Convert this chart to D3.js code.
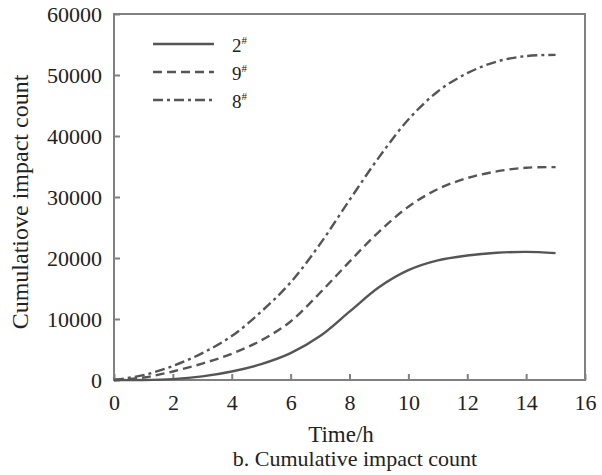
<!DOCTYPE html>
<html>
<head>
<meta charset="utf-8">
<script src="https://cdn.jsdelivr.net/npm/d3@7"></script>
<style>
    body { margin: 0; background: #fff; }
</style>
</head>
<body>
<div id="chart"></div>
<script>
// time (h)
const times = [0, 1, 2, 3, 4, 5, 6, 7, 8, 9, 10, 11, 12, 13, 14, 15];
// cumulative impact counts per working face
const face2 = [0, 0, 150, 600, 1400, 2600, 4400, 7200, 11200, 15200, 18000, 19600, 20400, 20850, 21000, 20800];
const face9 = [0, 400, 1400, 2700, 4300, 6500, 9600, 14300, 19400, 24300, 28400, 31300, 33100, 34200, 34800, 34900];
const face8 = [0, 800, 2300, 4400, 7200, 11200, 16000, 22300, 29500, 36500, 42700, 47300, 50300, 52200, 53100, 53300];

const seriesNames = ["2", "9", "8"];
const xTicks = [0, 2, 4, 6, 8, 10, 12, 14, 16];
const yTicks = [0, 10000, 20000, 30000, 40000, 50000, 60000];

const series = [
    {name: seriesNames[0], values: face2, dash: null},
    {name: seriesNames[1], values: face9, dash: "9,5"},
    {name: seriesNames[2], values: face8, dash: "10,4,3,4"}
];

const FONT = "'Liberation Serif'";
const W = 602, H = 475;
const margin = {t: 14, l: 114, r: 17, b: 95};
const w = W - margin.l - margin.r;
const h = H - margin.t - margin.b;

const svg = d3.select("#chart").append("svg")
    .attr("width", W)
    .attr("height", H);

const x = d3.scaleLinear().domain([0, 16]).range([0, w]);
const y = d3.scaleLinear().domain([0, 60000]).range([h, 0]);

const g = svg.append("g").attr("transform", `translate(${margin.l},${margin.t})`);

const axisColor = "#808080";

// frame
g.append("rect")
    .attr("x", 0).attr("y", 0)
    .attr("width", w).attr("height", h)
    .attr("fill", "none")
    .attr("stroke", axisColor)
    .attr("stroke-width", 2);

// x axis
const xAxis = g.append("g")
    .attr("transform", `translate(0,${h})`)
    .call(d3.axisBottom(x).tickValues(xTicks).tickSizeInner(-6).tickSizeOuter(0).tickPadding(14));
xAxis.attr("font-family", null);
xAxis.select(".domain").remove();
xAxis.selectAll("line").attr("stroke", axisColor).attr("stroke-width", 2);
xAxis.selectAll("text")
    .style("font-family", FONT)
    .style("font-size", "22px")
    .attr("fill", "#222");

// y axis
const yAxis = g.append("g")
    .call(d3.axisLeft(y).tickValues(yTicks).tickFormat(d3.format("d")).tickSizeInner(-6).tickSizeOuter(0).tickPadding(12));
yAxis.attr("font-family", null);
yAxis.select(".domain").remove();
yAxis.selectAll("line").attr("stroke", axisColor).attr("stroke-width", 2);
yAxis.selectAll("text")
    .style("font-family", FONT)
    .style("font-size", "22px")
    .attr("fill", "#222");

// lines
const line = d3.line()
    .x((d, i) => x(times[i]))
    .y((d) => y(d))
    .curve(d3.curveCatmullRom.alpha(0.5));

g.selectAll(".series")
    .data(series)
    .join("path")
    .attr("class", "series")
    .attr("d", (d) => line(d.values))
    .attr("fill", "none")
    .attr("stroke", "#555")
    .attr("stroke-width", 2.4)
    .attr("stroke-dasharray", (d) => d.dash);

// legend
const legend = g.append("g").attr("transform", "translate(39,30)");
const rows = legend.selectAll("g")
    .data(series)
    .join("g")
    .attr("transform", (d, i) => `translate(0,${i * 28})`);
rows.append("line")
    .attr("x1", 0).attr("x2", 61)
    .attr("stroke", "#555")
    .attr("stroke-width", 2.4)
    .attr("stroke-dasharray", (d) => d.dash);
rows.append("text")
    .attr("x", 79).attr("y", 8)
    .style("font-family", FONT)
    .style("font-size", "19px")
    .attr("fill", "#222")
    .text((d) => d.name)
    .append("tspan")
    .attr("dy", -8)
    .style("font-size", "11px")
    .text("#");

// axis titles
svg.append("text")
    .attr("transform", "translate(28,202) rotate(-90)")
    .attr("text-anchor", "middle")
    .style("font-family", FONT)
    .style("font-size", "24px")
    .attr("fill", "#222")
    .text("Cumulatiove impact count");

svg.append("text")
    .attr("x", 341).attr("y", 442)
    .attr("text-anchor", "middle")
    .style("font-family", FONT)
    .style("font-size", "23px")
    .attr("fill", "#222")
    .text("Time/h");

svg.append("text")
    .attr("x", 355).attr("y", 466)
    .attr("text-anchor", "middle")
    .style("font-family", FONT)
    .style("font-size", "22px")
    .attr("fill", "#222")
    .text("b. Cumulative impact count");
</script>
</body>
</html>
